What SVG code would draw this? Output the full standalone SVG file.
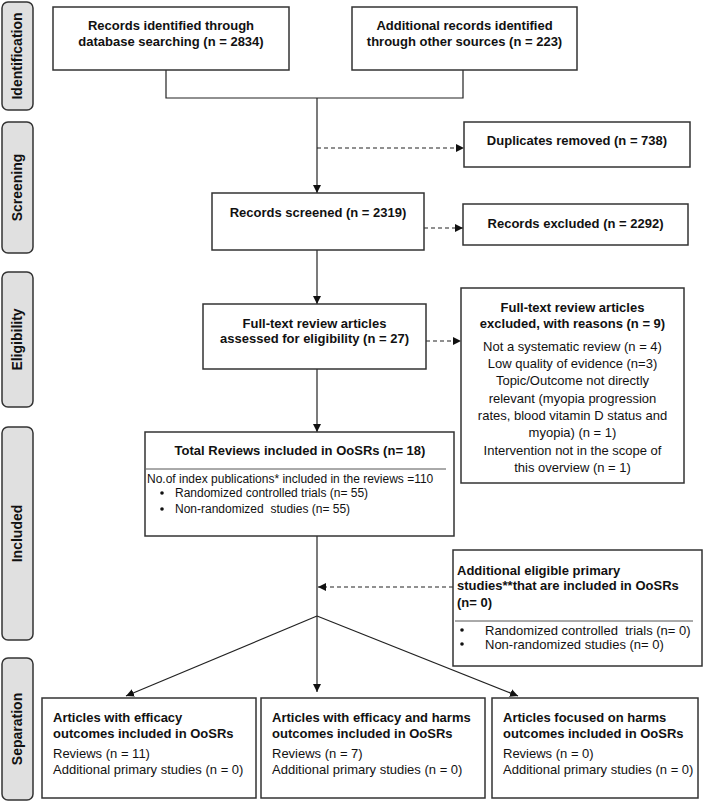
<svg xmlns="http://www.w3.org/2000/svg" width="709" height="803" viewBox="0 0 709 803">
<style>
text{font-family:"Liberation Sans",Arial,sans-serif;font-size:13px;fill:#111;white-space:pre}
.b{font-weight:bold}
.c{text-anchor:middle}
.s{font-size:12px}
.box{fill:#fff;stroke:#333;stroke-width:1.5}
.side{fill:#e0e0e0;stroke:#333;stroke-width:1.5}
.side-t{font-size:14px;font-weight:bold;text-anchor:middle}
.ln{fill:none;stroke:#222;stroke-width:1.2}
.dash{fill:none;stroke:#222;stroke-width:1.2;stroke-dasharray:4,3}
.sep{stroke:#555;stroke-width:1}
</style>
<defs>
<marker id="ah" viewBox="0 0 10 10" refX="10" refY="5" markerWidth="8" markerHeight="8" markerUnits="userSpaceOnUse" orient="auto">
<path d="M0,0 L10,5 L0,10 z" fill="#111"/>
</marker>
</defs>
<rect width="709" height="803" fill="#fff"/>

<g id="phase-identification"><rect class="side" x="2" y="2" width="31" height="108" rx="6"/><text class="side-t" transform="translate(22,56) rotate(-90)">Identification</text></g>
<g id="phase-screening"><rect class="side" x="2" y="122" width="31" height="131" rx="6"/><text class="side-t" transform="translate(22,187.5) rotate(-90)">Screening</text></g>
<g id="phase-eligibility"><rect class="side" x="2" y="272" width="31" height="135" rx="6"/><text class="side-t" transform="translate(22,339.5) rotate(-90)">Eligibility</text></g>
<g id="phase-included"><rect class="side" x="2" y="427" width="31" height="213" rx="6"/><text class="side-t" transform="translate(22,533.5) rotate(-90)">Included</text></g>
<g id="phase-separation"><rect class="side" x="2" y="658" width="31" height="142" rx="6"/><text class="side-t" transform="translate(22,729) rotate(-90)">Separation</text></g>

<g id="connectors">
<polyline class="ln" points="166,70 166,98 463,98 463,70"/>
<line class="ln" x1="317" y1="98" x2="317" y2="193" marker-end="url(#ah)"/>
<line class="dash" x1="317" y1="148" x2="464" y2="148" marker-end="url(#ah)"/>
<line class="dash" x1="424" y1="228" x2="463" y2="228" marker-end="url(#ah)"/>
<line class="ln" x1="317" y1="250" x2="317" y2="304" marker-end="url(#ah)"/>
<line class="dash" x1="426" y1="341" x2="461" y2="341" marker-end="url(#ah)"/>
<line class="ln" x1="317" y1="369" x2="317" y2="432" marker-end="url(#ah)"/>
<line class="ln" x1="317" y1="536" x2="317" y2="692" marker-end="url(#ah)"/>
<line class="dash" x1="453" y1="587" x2="318" y2="587" marker-end="url(#ah)"/>
<line class="ln" x1="317" y1="616" x2="126" y2="696" marker-end="url(#ah)"/>
<line class="ln" x1="317" y1="616" x2="518" y2="696" marker-end="url(#ah)"/>
</g>

<g id="db-search"><rect class="box" x="53" y="7" width="236" height="63"/>
<text class="b c" x="171" y="30">Records identified through</text>
<text class="b c" x="171" y="46">database searching (n = 2834)</text></g>

<g id="other-sources"><rect class="box" x="352" y="7" width="225" height="63"/>
<text class="b c" x="464.5" y="30">Additional records identified</text>
<text class="b c" x="464.5" y="46">through other sources (n = 223)</text></g>

<g id="duplicates"><rect class="box" x="464" y="122" width="226" height="45"/>
<text class="b c" x="577" y="144.5">Duplicates removed (n = 738)</text></g>

<g id="screened"><rect class="box" x="212" y="193" width="212" height="57"/>
<text class="b c" x="318" y="216.5">Records screened (n = 2319)</text></g>

<g id="excluded"><rect class="box" x="463" y="204" width="225" height="41"/>
<text class="b c" x="575.5" y="227.5">Records excluded (n = 2292)</text></g>

<g id="fulltext"><rect class="box" x="203" y="304" width="223" height="65"/>
<text class="b c" x="314.5" y="327.5">Full-text review articles</text>
<text class="b c" x="314.5" y="342.5">assessed for eligibility (n = 27)</text></g>

<g id="fulltext-excluded"><rect class="box" x="461" y="288" width="223" height="195"/>
<text class="b c" x="572.5" y="311.5">Full-text review articles</text>
<text class="b c" x="572.5" y="327.5">excluded, with reasons (n = 9)</text>
<text class="c" x="572.5" y="350.5">Not a systematic review (n = 4)</text>
<text class="c" x="572.5" y="367.5">Low quality of evidence (n=3)</text>
<text class="c" x="572.5" y="385">Topic/Outcome not directly</text>
<text class="c" x="572.5" y="402.5">relevant (myopia progression</text>
<text class="c" x="572.5" y="420">rates, blood vitamin D status and</text>
<text class="c" x="572.5" y="437">myopia) (n = 1)</text>
<text class="c" x="572.5" y="455">Intervention not in the scope of</text>
<text class="c" x="572.5" y="472">this overview (n = 1)</text></g>

<g id="total-reviews"><rect class="box" x="145" y="432" width="309" height="104"/>
<text class="b c" x="300" y="454.5">Total Reviews included in OoSRs (n= 18)</text>
<line class="sep" x1="146" y1="469" x2="446" y2="469"/>
<text class="s" x="147" y="482.5">No.of index publications* included in the reviews =110</text>
<circle cx="162" cy="493" r="1.8" fill="#111"/>
<text class="s" x="175" y="497">Randomized controlled trials (n= 55)</text>
<circle cx="162" cy="509" r="1.8" fill="#111"/>
<text class="s" x="175" y="513">Non-randomized  studies (n= 55)</text></g>

<g id="additional-primary"><rect class="box" x="453" y="550" width="249" height="116"/>
<text class="b" x="457" y="574.5">Additional eligible primary</text>
<text class="b" x="457" y="590">studies**that are included in OoSRs</text>
<text class="b" x="457" y="606.5">(n= 0)</text>
<line class="sep" x1="455" y1="621" x2="693" y2="621"/>
<circle cx="462" cy="630" r="1.8" fill="#111"/>
<text x="485" y="634.5">Randomized controlled  trials (n= 0)</text>
<circle cx="462" cy="644" r="1.8" fill="#111"/>
<text x="485" y="648.5">Non-randomized studies (n= 0)</text></g>

<g id="efficacy"><rect class="box" x="42" y="698" width="214" height="100"/>
<text class="b" x="53" y="721.5">Articles with efficacy</text>
<text class="b" x="53" y="737.5">outcomes included in OoSRs</text>
<text x="53" y="757.5">Reviews (n = 11)</text>
<text x="53" y="773.5">Additional primary studies (n = 0)</text></g>

<g id="efficacy-harms"><rect class="box" x="261" y="698" width="224" height="100"/>
<text class="b" x="272" y="721.5">Articles with efficacy and harms</text>
<text class="b" x="272" y="737.5">outcomes included in OoSRs</text>
<text x="272" y="757.5">Reviews (n = 7)</text>
<text x="272" y="773.5">Additional primary studies (n = 0)</text></g>

<g id="harms"><rect class="box" x="492" y="698" width="206" height="100"/>
<text class="b" x="503" y="721.5">Articles focused on harms</text>
<text class="b" x="503" y="737.5">outcomes included in OoSRs</text>
<text x="503" y="757.5">Reviews (n = 0)</text>
<text x="503" y="773.5">Additional primary studies (n = 0)</text></g>
</svg>
